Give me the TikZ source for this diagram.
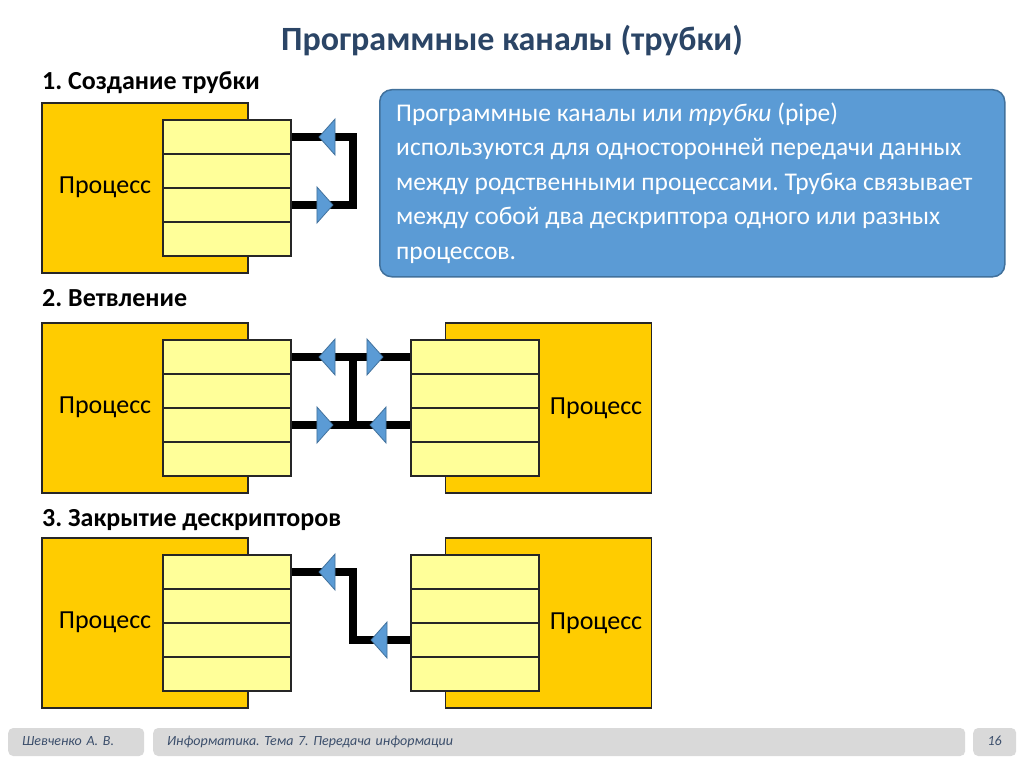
\documentclass[tikz,border=0pt]{standalone}
\usepackage{fontspec}
\setmainfont{Carlito}
\frenchspacing
\usetikzlibrary{shapes.geometric}
\definecolor{titleblue}{HTML}{2B4566}
\definecolor{procfill}{HTML}{FFCC00}
\definecolor{cellfill}{HTML}{FFFF99}
\definecolor{notefill}{HTML}{5B9BD5}
\definecolor{noteedge}{HTML}{41719C}
\definecolor{footgray}{HTML}{D9D9D9}
\definecolor{foottext}{HTML}{3B4E6B}

\begin{document}
\begin{tikzpicture}[x=1pt,y=-1pt,
proc/.style={draw=black!85,line width=1.2pt,fill=procfill,minimum width=206,minimum height=170,inner sep=0},
cell/.style={draw=black!85,line width=1.2pt,fill=cellfill,minimum width=128,minimum height=34,inner sep=0},
plabel/.style={font=\fontsize{26}{30}\selectfont},
head/.style={font=\bfseries\fontsize{26}{30}\selectfont,anchor=base west,inner sep=0},
pipe/.style={line width=8pt,black},
valve/.style={isosceles triangle,isosceles triangle stretches,minimum width=36,minimum height=16,
  inner sep=0,fill=notefill,draw=noteedge,line width=.8pt,anchor=apex},
toleft/.style={valve,shape border rotate=180},
toright/.style={valve},
foot/.style={fill=footgray,rounded corners=5pt,minimum height=28,inner ysep=0,inner xsep=14,align=left,
  text height=10,text depth=3,font=\itshape\fontsize{14}{16}\selectfont,text=foottext}]
\useasboundingbox[fill=white] (0,0) rectangle (1024,767);

\node[font=\bfseries\fontsize{34}{40}\selectfont,text=titleblue,anchor=base] (title) at (512,51) {Программные каналы (трубки)};

% 1. creating the pipe
\node[head] (h1) at (42,90) {1. Создание трубки};
\node[proc] (p1) at (145,188) {};
\node[plabel] (l1) at (105,187) {Процесс};
% 2. fork
\node[head] (h2) at (42,306) {2. Ветвление};
\node[proc] (p2) at (145,408) {};
\node[plabel] (l2) at (105,407) {Процесс};
\node[proc] (p3) at (548.5,408) {};
\node[plabel] (l3) at (596,408) {Процесс};
% 3. closing descriptors
\node[head] (h3) at (42,526) {3. Закрытие дескрипторов};
\node[proc] (p4) at (145,623) {};
\node[plabel] (l4) at (105,622) {Процесс};
\node[proc] (p5) at (548.5,623) {};
\node[plabel] (l5) at (596,623) {Процесс};

% descriptor tables
\foreach \t/\x/\y in {a/227/120,b/227/340,c/475/340,d/227/555,e/475/555}
  \foreach \i in {1,...,4}
    \node[cell] (\t\i) at (\x,{\y+17+34*(\i-1)}) {};

% pipes
\draw[pipe] (a1.east) -- ++(61,0) |- (a3.east);
\draw[pipe] (b1.east) -- (c1.west);
\draw[pipe] (b3.east) -- (c3.west);
\draw[pipe] (b1.east) ++(61,0) -- ++(0,68);
\draw[pipe] (d1.east) -- ++(61,0) |- (e3.west);

\node[toleft] (v1) at (318,137) {};
\node[toright] (v2) at (334,205) {};
\node[toleft] (v3) at (318,357) {};
\node[toright] (v4) at (384,357) {};
\node[toright] (v5) at (334,425) {};
\node[toleft] (v6) at (369,425) {};
\node[toleft] (v7) at (318,572) {};
\node[toleft] (v8) at (370,640) {};

% note
\node[draw=noteedge,line width=1.5pt,fill=notefill,rounded corners=12pt,anchor=north west,
  minimum width=625,minimum height=187] (note) at (379,89) {};
\node[anchor=west,inner sep=0,align=left,text=white,font=\fontsize{25.5}{34.5}\selectfont]
  (notetext) at ([xshift=17]note.west)
  {Программные каналы или \textit{трубки} (pipe)\\используются для односторонней передачи данных\\между родственными процессами. Трубка связывает\\между собой два дескриптора одного или разных\\процессов.};

% footer
\node[foot,text width=108,anchor=west] (f1) at (8,742) {Шевченко А. В.};
\node[foot,text width=784,anchor=west] (f2) at (153,742) {Информатика. Тема 7. Передача информации};
\node[foot,minimum width=43,inner xsep=0,anchor=west,align=center] (f3) at (973,742) {16};
\end{tikzpicture}
\end{document}
